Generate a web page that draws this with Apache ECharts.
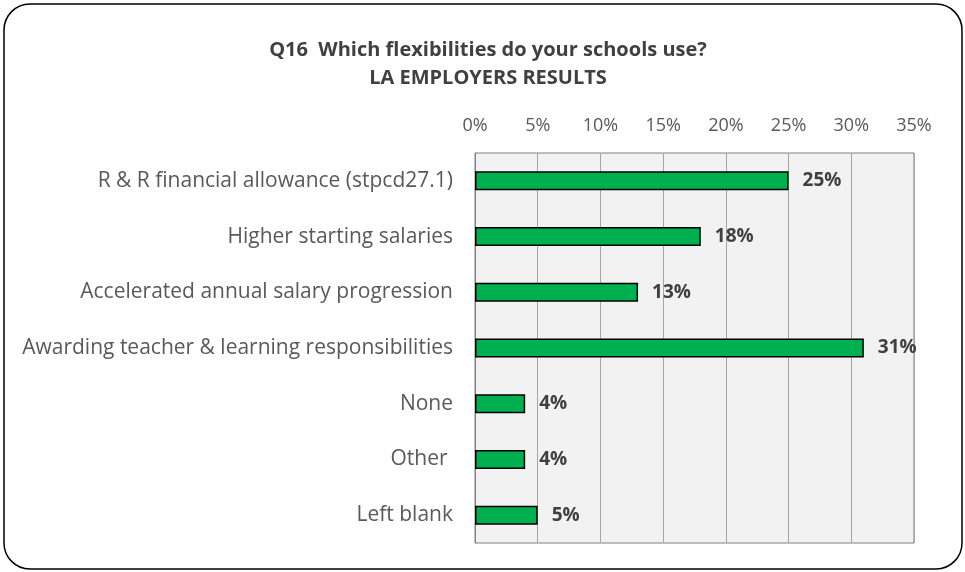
<!DOCTYPE html>
<html>
<head>
<meta charset="utf-8">
<script src="https://cdn.jsdelivr.net/npm/echarts@6/dist/echarts.min.js"></script>
<style>
  html, body { margin: 0; padding: 0; background: #ffffff; }
  #chart { width: 965px; height: 572px; }
</style>
</head>
<body>
<div id="chart"></div>
<script>
// Survey responses: share of LA employers using each pay flexibility
const categories = [
  'R & R financial allowance (stpcd27.1)',
  'Higher starting salaries',
  'Accelerated annual salary progression',
  'Awarding teacher & learning responsibilities',
  'None',
  'Other ',
  'Left blank'
];
const shares = [25, 18, 13, 31, 4, 4, 5];
const axisTicks = [0, 5, 10, 15, 20, 25, 30, 35];

const chart = echarts.init(document.getElementById('chart'), null, { renderer: 'canvas' });

chart.setOption({
  backgroundColor: '#ffffff',
  animation: false,
  title: {
    text: 'Q16  Which flexibilities do your schools use?\nLA EMPLOYERS RESULTS',
    left: 483,
    top: 31,
    textAlign: 'center',
    textStyle: {
      fontFamily: 'Open Sans',
      fontSize: 20,
      fontWeight: 'bold',
      color: '#404040',
      lineHeight: 28
    }
  },
  graphic: [{
    type: 'rect',
    shape: { x: 4, y: 4, width: 958, height: 565, r: 26 },
    style: { fill: 'none', stroke: '#000000', lineWidth: 1.5 },
    silent: true
  }],
  grid: {
    left: 475,
    right: 51,
    top: 153,
    bottom: 29,
    show: true,
    backgroundColor: '#f2f2f2',
    borderColor: '#808080',
    borderWidth: 1
  },
  xAxis: {
    type: 'value',
    position: 'top',
    min: axisTicks[0],
    max: axisTicks[axisTicks.length - 1],
    interval: 5,
    axisLine: { show: false },
    axisTick: { show: false },
    splitLine: { show: true, lineStyle: { color: '#a6a6a6', width: 1 } },
    axisLabel: {
      margin: 18,
      fontFamily: 'Open Sans',
      fontSize: 18,
      color: '#595959',
      formatter: v => v + '%'
    }
  },
  yAxis: {
    type: 'category',
    data: categories,
    inverse: true,
    axisLine: { show: true, lineStyle: { color: '#808080' } },
    axisTick: { show: false },
    axisLabel: {
      margin: 22,
      fontFamily: 'Open Sans',
      fontSize: 21,
      color: '#595959'
    }
  },
  series: [{
    type: 'bar',
    data: shares,
    barWidth: 19,
    itemStyle: {
      color: '#00b050',
      borderColor: '#000000',
      borderWidth: 1.5
    },
    label: {
      show: true,
      position: 'right',
      distance: 14,
      fontFamily: 'Open Sans',
      fontSize: 19,
      fontWeight: 'bold',
      color: '#404040',
      formatter: p => p.value + '%'
    }
  }]
});
</script>
</body>
</html>
